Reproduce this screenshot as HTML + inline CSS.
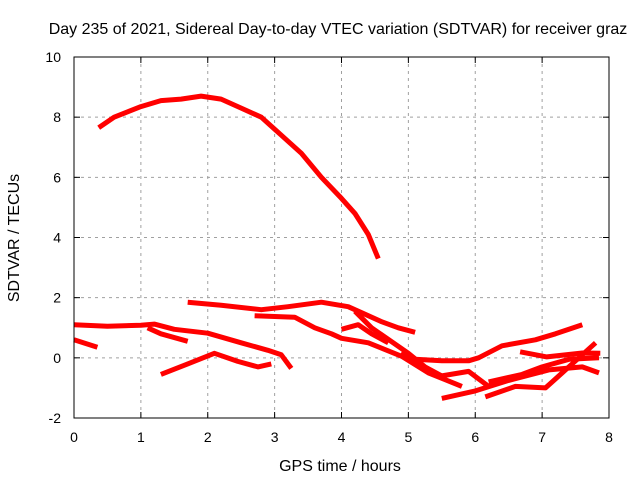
<!DOCTYPE html>
<html><head><meta charset="utf-8"><style>
body{margin:0;background:#fff;}
svg{display:block;font-family:"Liberation Sans",sans-serif;}
</style></head><body>
<svg id="chart" width="640" height="480">
<rect width="640" height="480" fill="#fff"/>
<text x="338" y="34" font-size="16" text-anchor="middle">Day 235 of 2021, Sidereal Day-to-day VTEC variation (SDTVAR) for receiver graz</text>
<g id="grid"></g>
<g id="series"></g>
<g id="axes"></g>
<text x="340" y="471" font-size="16" text-anchor="middle">GPS time / hours</text>
<text transform="translate(19,238) rotate(-90)" font-size="16" text-anchor="middle">SDTVAR / TECUs</text>
</svg>
<script>
const xTicks=[0,1,2,3,4,5,6,7,8];
const yTicks=[-2,0,2,4,6,8,10];
const s1=[[0.37,7.65],[0.6,8.0],[1.0,8.35],[1.3,8.55],[1.6,8.6],[1.9,8.7],[2.2,8.6],[2.5,8.3],[2.8,8.0],[3.1,7.4],[3.4,6.8],[3.7,6.0],[4.0,5.3],[4.2,4.8],[4.4,4.1],[4.55,3.3]];
const s2=[[0,1.1],[0.5,1.05],[1.0,1.08],[1.2,1.12],[1.5,0.95],[2.0,0.82],[2.5,0.5],[2.9,0.25],[3.1,0.1],[3.25,-0.35]];
const s3=[[1.1,1.0],[1.3,0.8],[1.7,0.55]];
const s4=[[0,0.6],[0.35,0.35]];
const s5=[[1.3,-0.55],[1.7,-0.2],[2.1,0.15],[2.45,-0.12],[2.75,-0.3],[2.95,-0.2]];
const s6=[[1.7,1.85],[2.2,1.75],[2.8,1.6],[3.2,1.7],[3.7,1.85],[4.1,1.7],[4.3,1.5],[4.6,1.2],[4.85,1.0],[5.1,0.85]];
const s7=[[2.7,1.4],[3.3,1.35],[3.6,1.0],[3.85,0.8],[4.0,0.65],[4.4,0.5],[4.9,0.05],[5.3,-0.5],[5.8,-0.95]];
const s8=[[4.2,1.55],[4.45,1.0],[5.0,0.15],[5.25,-0.3],[5.5,-0.6],[5.9,-0.45],[6.2,-0.95]];
const s9=[[4.0,0.95],[4.25,1.1],[4.45,0.8],[4.7,0.5]];
const s10=[[4.9,0.2],[5.1,-0.05],[5.5,-0.1],[5.9,-0.1],[6.05,0],[6.4,0.4],[6.9,0.6],[7.2,0.8],[7.6,1.1]];
const s11=[[5.5,-1.35],[6.0,-1.1],[6.5,-0.75],[7.1,-0.4],[7.6,-0.3],[7.85,-0.5]];
const s12=[[6.15,-1.3],[6.6,-0.95],[7.05,-1.0],[7.3,-0.5],[7.5,-0.1],[7.8,0.5]];
const s13=[[6.67,0.2],[7.07,0.03],[7.6,0.16],[7.87,0.15]];
const s14=[[6.2,-0.8],[6.7,-0.55],[7.0,-0.3],[7.4,-0.05],[7.85,0.0]];
const allSeries=[s1,s2,s3,s4,s5,s6,s7,s8,s9,s10,s11,s12,s13,s14];

const L=74,R=609,T=57,B=418;
const X=h=>L+(h-0)/(8-0)*(R-L);
const Y=v=>B-(v+2)/(12)*(B-T);
const NS="http://www.w3.org/2000/svg";
function mk(tag,attrs,parent){const e=document.createElementNS(NS,tag);for(const k in attrs)e.setAttribute(k,attrs[k]);parent.appendChild(e);return e;}
const grid=document.getElementById('grid'),axes=document.getElementById('axes'),ser=document.getElementById('series');
xTicks.forEach(t=>{
  const x=X(t);
  if(t>0&&t<8){const g=mk('line',{x1:x,x2:x,y1:T,y2:B,stroke:'#a0a0a0','stroke-dasharray':'3,4','stroke-width':1},grid);
  
  }
  mk('line',{x1:x,x2:x,y1:B,y2:B-6,stroke:'#000'},axes);
  mk('line',{x1:x,x2:x,y1:T,y2:T+6,stroke:'#000'},axes);
  const tx=mk('text',{x:x,y:442,'font-size':14,'text-anchor':'middle'},axes);
  tx.textContent=t;
  
  
});
yTicks.forEach(t=>{
  const y=Y(t);
  if(t>-2&&t<10){const g=mk('line',{x1:L,x2:R,y1:y,y2:y,stroke:'#a0a0a0','stroke-dasharray':'3,4','stroke-width':1},grid);
  
  }
  mk('line',{x1:L,x2:L+6,y1:y,y2:y,stroke:'#000'},axes);
  mk('line',{x1:R,x2:R-6,y1:y,y2:y,stroke:'#000'},axes);
  const tx=mk('text',{x:61,y:y+5,'font-size':14,'text-anchor':'end'},axes);
  tx.textContent=t;
  
  
});
const fr=mk('rect',{x:L,y:T,width:R-L,height:B-T,fill:'none',stroke:'#000','stroke-width':1},axes);


allSeries.forEach((s,i)=>{
  const p=mk('polyline',{points:s.map(d=>X(d[0]).toFixed(1)+','+Y(d[1]).toFixed(1)).join(' '),fill:'none',stroke:'#f00','stroke-width':5,'stroke-linejoin':'round','stroke-linecap':'butt'},ser);
  
  
});
</script>
</body></html>
